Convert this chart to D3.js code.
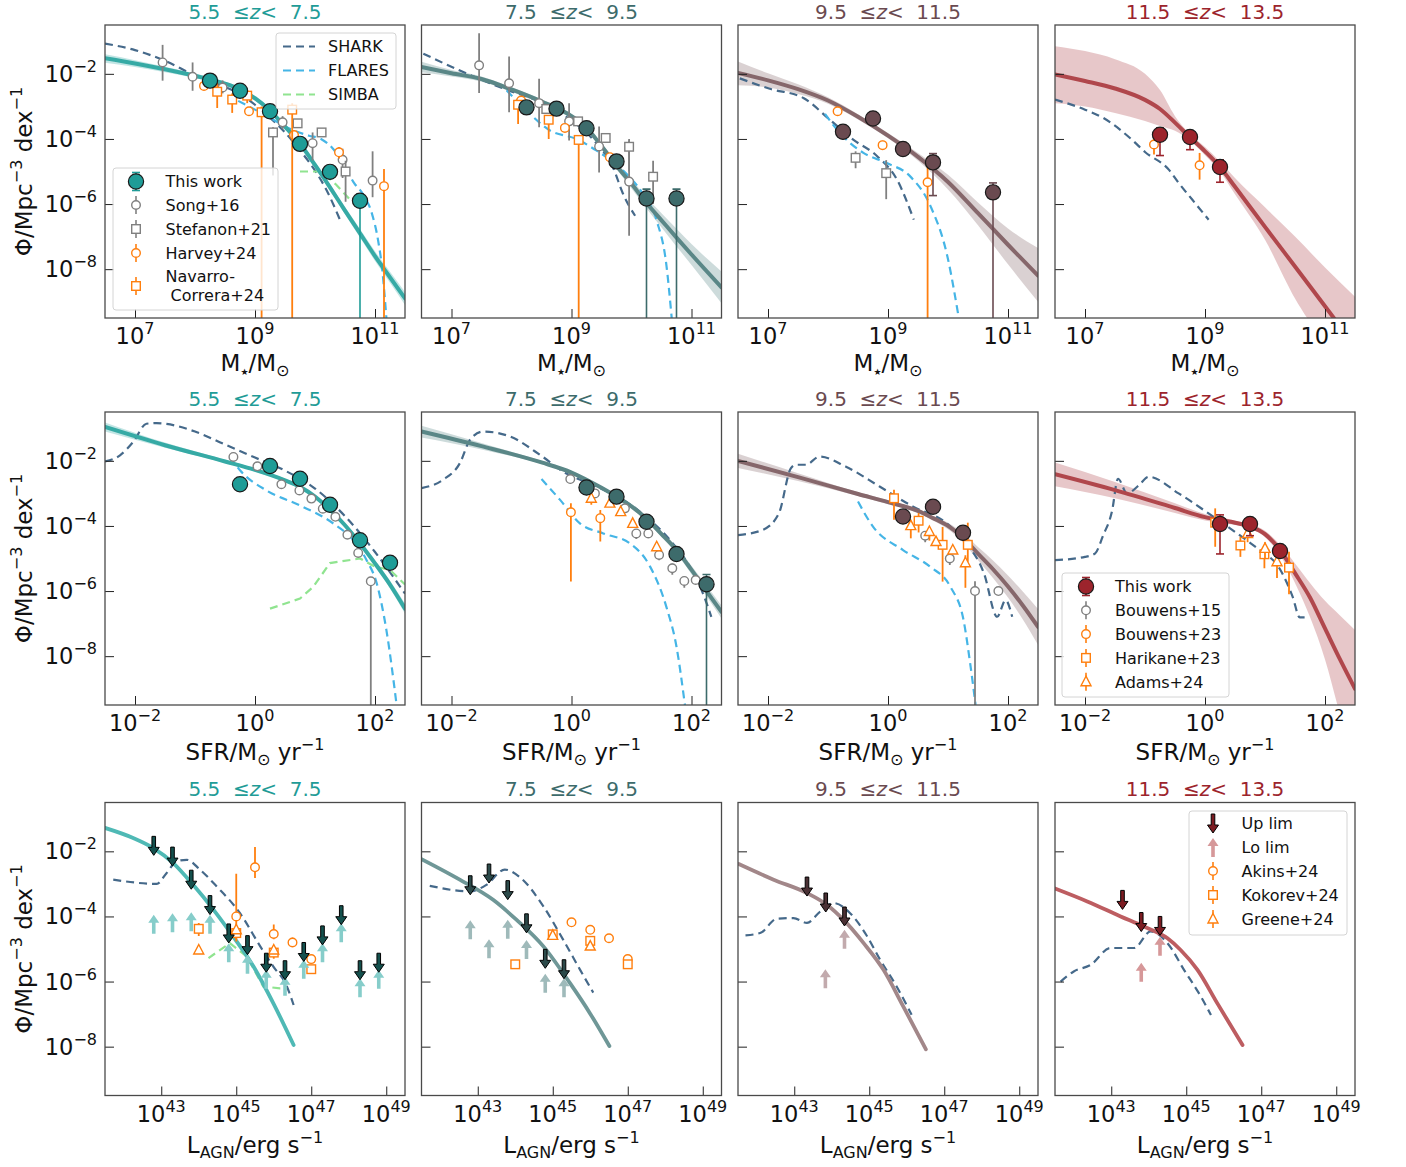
<!DOCTYPE html>
<html>
<head>
<meta charset="utf-8">
<script src="https://cdn.jsdelivr.net/npm/d3@7"></script>
<style>
  body { margin: 0; background: #fff; }
  svg { font-family: "DejaVu Sans", sans-serif; }
</style>
</head>
<body>
<svg id="chart" width="1406" height="1167"></svg>
<script>
// redshift bins
const zLow = ['5.5', '7.5', '9.5', '11.5'];
const zHigh = ['7.5', '9.5', '11.5', '13.5'];

// ---- stellar mass function (log10 M*, log10 Phi) ----
const smfFit = [
  [[6.5,-1.52],[7.0,-1.68],[7.5,-1.86],[8.0,-2.06],[8.5,-2.30],[8.75,-2.48],[9.0,-2.75],[9.25,-3.13],[9.5,-3.62],[9.75,-4.15],[10.0,-4.8],[10.25,-5.49],[10.5,-6.2],[10.75,-6.9],[11.0,-7.6],[11.25,-8.25],[11.5,-8.9]],
  [[6.5,-1.79],[7.0,-1.98],[7.5,-2.16],[8.0,-2.48],[8.5,-2.85],[9.0,-3.3],[9.25,-3.65],[9.5,-4.22],[9.75,-4.82],[10.0,-5.38],[10.25,-5.97],[10.5,-6.5],[10.75,-7.03],[11.0,-7.55],[11.5,-8.56]],
  [[6.5,-1.97],[7.0,-2.2],[7.5,-2.47],[8.0,-2.82],[8.5,-3.32],[9.0,-3.9],[9.5,-4.55],[10.0,-5.32],[10.5,-6.28],[11.0,-7.25],[11.5,-8.2]],
  [[6.5,-2.02],[7.0,-2.22],[7.5,-2.45],[8.0,-2.8],[8.25,-3.08],[8.5,-3.5],[8.75,-3.95],[9.0,-4.38],[9.25,-4.86],[9.5,-5.47],[10.0,-6.7],[10.5,-7.92],[11.0,-9.14],[11.5,-10.36]]
];
const smfBand = [
  [[6.5,-1.66,-1.40],[7.0,-1.79,-1.58],[7.5,-1.95,-1.78],[8.0,-2.13,-1.99],[8.5,-2.36,-2.24],[8.75,-2.54,-2.42],[9.0,-2.81,-2.69],[9.25,-3.19,-3.07],[9.5,-3.69,-3.55],[9.75,-4.23,-4.07],[10.0,-4.89,-4.71],[10.25,-5.59,-5.39],[10.5,-6.31,-6.09],[10.75,-7.03,-6.77],[11.0,-7.75,-7.45],[11.25,-8.42,-8.08],[11.5,-9.1,-8.7]],
  [[6.5,-1.95,-1.63],[7.0,-2.08,-1.88],[7.5,-2.24,-2.08],[8.0,-2.55,-2.41],[8.5,-2.92,-2.78],[9.0,-3.37,-3.23],[9.25,-3.73,-3.57],[9.5,-4.31,-4.13],[9.75,-4.93,-4.71],[10.0,-5.52,-5.24],[10.25,-6.14,-5.8],[10.5,-6.72,-6.28],[10.75,-7.3,-6.76],[11.0,-7.87,-7.23],[11.5,-9.05,-8.07]],
  [[6.5,-2.35,-1.62],[7.0,-2.42,-1.98],[7.5,-2.62,-2.32],[8.0,-2.92,-2.72],[8.5,-3.4,-3.24],[9.0,-3.98,-3.82],[9.5,-4.67,-4.43],[10.0,-5.55,-5.1],[10.5,-6.65,-5.95],[11.0,-7.85,-6.75],[11.5,-9.0,-7.35]],
  [[6.5,-2.9,-1.15],[7.0,-3.0,-1.3],[7.5,-3.2,-1.55],[8.0,-3.45,-2.0],[8.25,-3.6,-2.5],[8.5,-3.75,-3.3],[8.75,-4.05,-3.85],[9.0,-4.5,-4.25],[9.25,-5.0,-4.7],[9.5,-5.7,-5.2],[10.0,-7.1,-6.1],[10.5,-8.9,-7.0],[11.0,-10.3,-7.95],[11.5,-11.6,-8.85]]
];
const smfThisWork = [
  [[8.25,-2.21,-2.3,-2.13],[8.75,-2.52,-2.6,-2.45],[9.25,-3.15,-3.25,-3.07],[9.75,-4.15,-4.3,-4.02],[10.25,-5.01,-5.2,-4.85],[10.75,-5.9,-12,-5.7]],
  [[8.25,-3.03,-3.12,-2.95],[8.75,-3.07,-3.15,-2.99],[9.25,-3.67,-3.78,-3.58],[9.75,-4.69,-4.85,-4.55],[10.25,-5.83,-12,-5.54],[10.75,-5.83,-12,-5.54]],
  [[8.25,-3.78,-3.9,-3.68],[8.75,-3.37,-3.47,-3.28],[9.25,-4.31,-4.45,-4.2],[9.75,-4.72,-5.74,-4.45],[10.75,-5.64,-12,-5.35]],
  [[8.25,-3.87,-4.51,-3.66],[8.75,-3.94,-4.33,-3.77],[9.25,-4.86,-5.33,-4.64]]
];
const smfShark = [
  [[6.5,-1.07],[7.0,-1.27],[7.5,-1.6],[8.0,-2.05],[8.5,-2.4],[8.75,-2.62],[9.0,-2.95],[9.25,-3.35],[9.5,-3.8],[9.75,-4.35],[10.0,-4.97],[10.2,-5.6],[10.42,-6.5]],
  [[6.53,-1.38],[7.14,-1.90],[7.92,-2.49],[8.42,-2.82],[8.92,-3.33],[9.42,-4.15],[9.69,-4.87],[9.86,-5.69],[10.06,-6.36]],
  [[6.53,-2.14],[7.03,-2.46],[7.59,-2.74],[8.03,-3.41],[8.42,-4.02],[8.82,-4.53],[9.15,-5.25],[9.43,-6.48]],
  [[6.5,-2.79],[7.0,-3.1],[7.3,-3.35],[7.78,-4.02],[8.0,-4.4],[8.4,-4.95],[8.56,-5.35],[8.79,-5.87],[9.06,-6.48]]
];
const smfFlares = [
  [[8.72,-2.83],[9.0,-3.1],[9.3,-3.4],[9.6,-3.7],[9.9,-3.9],[10.1,-4.0],[10.3,-4.3],[10.5,-4.85],[10.65,-5.35],[10.8,-5.7],[10.95,-6.3],[11.05,-7.1],[11.12,-8.0],[11.19,-9.5]],
  [[7.92,-2.51],[8.25,-3.13],[8.64,-3.74],[9.08,-4.0],[9.42,-4.36],[9.86,-4.97],[10.19,-5.69],[10.42,-6.51],[10.58,-7.85],[10.67,-9.5]],
  [[7.95,-3.23],[8.2,-3.82],[8.59,-4.43],[8.98,-4.74],[9.37,-5.15],[9.71,-6.07],[9.99,-7.61],[10.18,-9.5]],
  []
];
const smfSimba = [
  [[9.75,-5.0],[10.1,-5.0],[10.35,-5.4],[10.6,-5.9]], [], [], []
];
const smfSong16 = [
  [[7.46,-1.65,-2.21,-1.11],[7.96,-2.09,-2.52,-1.65],[8.46,-2.42,-2.6,-2.2],[9.46,-3.49,-3.7,-3.3],[9.96,-4.13,-4.66,-3.8],[10.46,-4.64,-5.2,-4.3],[10.96,-5.28,-5.79,-4.38]],
  [[7.46,-1.74,-2.59,-0.75],[7.96,-2.29,-3.18,-1.47],[8.46,-2.90,-3.64,-2.15],[8.96,-3.46,-4.05,-2.90],[9.46,-4.23,-5.03,-3.62],[9.96,-5.31,-6.97,-4.05]],
  [], []
];
const smfStefanon21 = [
  [[9.3,-3.80,-5.12,-3.64],[9.71,-3.52,-3.62,-3.42],[10.11,-3.80,-3.9,-3.7],[10.51,-5.0,-5.93,-4.67]],
  [[8.58,-3.08],[9.11,-3.46],[9.57,-3.97],[9.96,-4.24,-5.0,-4.0],[10.36,-5.16,-6.0,-4.67]],
  [[8.46,-4.58,-4.9,-4.38],[8.97,-5.05,-5.85,-4.65]],
  []
];
const smfHarvey24 = [
  [[8.15,-2.37],[8.9,-3.15],[9.65,-3.88],[10.4,-4.41,-4.6,-4.25],[11.15,-5.45,-12,-4.92]],
  [[8.16,-2.82],[8.89,-3.66],[9.64,-4.56]],
  [[8.16,-3.15],[8.91,-4.19,-4.3,-4.05],[9.66,-5.33,-12,-4.55]],
  [[8.15,-4.17,-4.48,-3.97],[8.91,-4.81,-5.25,-4.43]]
];
const smfNavarro24 = [
  [[8.37,-2.55,-3.05,-2.27],[8.62,-2.79,-3.2,-2.6],[8.87,-2.67,-2.9,-2.5],[9.11,-3.18,-12,-3.0],[9.62,-3.10,-12,-2.9]],
  [[8.11,-2.95,-3.54,-2.85],[8.62,-3.41,-4.0,-3.3],[9.12,-4.03,-12,-3.9]],
  [], []
];

// ---- star formation rate function (log10 SFR, log10 Phi) ----
const sfrFit = [
  [[-2.5,-0.96],[-1.5,-1.52],[-0.5,-2.02],[0,-2.28],[0.5,-2.6],[0.75,-2.8],[1.0,-3.1],[1.25,-3.5],[1.5,-3.98],[1.75,-4.54],[2.0,-5.15],[2.25,-5.8],[2.5,-6.54]],
  [[-2.5,-1.10],[-1.5,-1.55],[-0.5,-2.05],[0,-2.36],[0.5,-2.83],[0.75,-3.1],[1.0,-3.4],[1.25,-3.78],[1.5,-4.25],[1.75,-4.74],[2.0,-5.35],[2.25,-6.0],[2.5,-6.64]],
  [[-2.5,-2.0],[-1.5,-2.5],[-0.5,-3.02],[0,-3.27],[0.5,-3.54],[0.75,-3.76],[1.0,-4.0],[1.25,-4.36],[1.5,-4.85],[1.75,-5.33],[2.0,-5.86],[2.25,-6.45],[2.5,-7.1]],
  [[-2.5,-2.41],[-1.5,-2.9],[-0.5,-3.45],[0,-3.73],[0.5,-3.9],[0.75,-4.02],[1.0,-4.25],[1.25,-4.74],[1.5,-5.45],[1.75,-6.2],[2.0,-7.15],[2.25,-8.1],[2.5,-9.0]]
];
const sfrBand = [
  [[-2.5,-1.1,-0.82],[-1.5,-1.6,-1.44],[-0.5,-2.07,-1.97],[0,-2.33,-2.23],[0.5,-2.65,-2.55],[0.75,-2.85,-2.75],[1.0,-3.15,-3.05],[1.25,-3.56,-3.44],[1.5,-4.05,-3.91],[1.75,-4.62,-4.46],[2.0,-5.25,-5.05],[2.25,-5.92,-5.68],[2.5,-6.7,-6.38]],
  [[-2.5,-1.28,-0.92],[-1.5,-1.65,-1.45],[-0.5,-2.1,-2.0],[0,-2.41,-2.31],[0.5,-2.88,-2.78],[0.75,-3.15,-3.05],[1.0,-3.46,-3.34],[1.25,-3.85,-3.71],[1.5,-4.34,-4.16],[1.75,-4.85,-4.63],[2.0,-5.48,-5.22],[2.25,-6.16,-5.84],[2.5,-6.84,-6.44]],
  [[-2.5,-2.22,-1.78],[-1.5,-2.62,-2.38],[-0.5,-3.08,-2.96],[0,-3.33,-3.21],[0.5,-3.6,-3.48],[0.75,-3.83,-3.69],[1.0,-4.1,-3.9],[1.25,-4.5,-4.22],[1.5,-5.05,-4.65],[1.75,-5.6,-5.06],[2.0,-6.2,-5.52],[2.25,-6.88,-6.02],[2.5,-7.65,-6.55]],
  [[-2.5,-2.78,-2.05],[-1.5,-3.15,-2.65],[-0.5,-3.6,-3.3],[0,-3.83,-3.63],[0.5,-3.97,-3.83],[0.75,-4.09,-3.95],[1.0,-4.35,-4.15],[1.25,-4.9,-4.58],[1.5,-5.75,-5.15],[1.75,-6.8,-5.75],[2.0,-8.1,-6.3],[2.25,-9.8,-6.75],[2.5,-11.5,-7.2]]
];
const sfrThisWork = [
  [[-0.25,-2.72],[0.25,-2.16],[0.75,-2.55],[1.25,-3.35],[1.75,-4.44],[2.25,-5.13]],
  [[0.25,-2.82],[0.75,-3.10],[1.25,-3.87],[1.75,-4.86],[2.25,-5.79,-12,-5.49]],
  [[0.25,-3.71],[0.75,-3.41],[1.25,-4.21]],
  [[0.25,-3.94,-4.86,-3.66],[0.75,-3.94,-4.3,-3.8],[1.25,-4.77,-4.9,-4.65]]
];
const sfrShark = [
  [[-2.5,-2.02],[-2.25,-1.83],[-2.03,-1.42],[-1.81,-0.86],[-1.64,-0.84],[-1.5,-0.86],[-1.0,-1.1],[-0.5,-1.5],[0,-1.9],[0.5,-2.3],[1.0,-2.85],[1.5,-3.7],[2.0,-4.8],[2.5,-6.08]],
  [[-2.5,-2.84],[-2.14,-2.58],[-1.86,-2.07],[-1.69,-1.35],[-1.47,-1.10],[-1.03,-1.25],[-0.5,-1.85],[-0.14,-2.33],[0.42,-2.79],[0.86,-3.2],[1.31,-3.82],[1.64,-4.43],[1.97,-5.25],[2.19,-6.07],[2.33,-6.79]],
  [[-2.5,-4.28],[-2.1,-4.13],[-1.82,-3.62],[-1.62,-2.23],[-1.54,-2.12],[-1.37,-2.12],[-1.14,-1.87],[-0.7,-2.18],[-0.14,-2.79],[0.42,-3.41],[0.98,-3.92],[1.26,-4.44],[1.6,-5.46],[1.82,-6.79],[1.96,-6.28],[2.07,-6.79]],
  [[-2.5,-5.05],[-2.0,-4.95],[-1.83,-4.84],[-1.7,-4.3],[-1.55,-3.55],[-1.45,-2.55],[-1.3,-3.0],[-1.1,-2.75],[-0.94,-2.49],[-0.44,-3.0],[0.01,-3.55],[0.4,-4.05],[0.7,-4.45],[0.91,-4.74],[1.24,-5.3],[1.46,-6.17],[1.58,-6.81],[1.66,-6.81]]
];
const sfrFlares = [
  [[-0.42,-1.88],[-0.25,-2.29],[0.19,-2.91],[0.75,-3.37],[1.31,-3.93],[1.64,-4.44],[1.86,-5.05],[2.03,-5.77],[2.19,-7.2],[2.36,-9.5]],
  [[-0.5,-2.56],[-0.19,-3.2],[0.14,-3.92],[0.53,-4.23],[0.97,-4.53],[1.31,-5.25],[1.58,-6.48],[1.75,-7.71],[1.89,-9.5]],
  [[-0.5,-3.25],[-0.25,-4.02],[0.25,-4.74],[0.7,-5.25],[1.04,-5.87],[1.26,-6.9],[1.37,-8.23],[1.46,-9.5]],
  []
];
const sfrSimba = [
  [[0.25,-6.54],[0.75,-6.23],[0.97,-5.87],[1.25,-5.14],[1.75,-5.0],[2.0,-5.25],[2.25,-5.35],[2.5,-5.8]], [], [], []
];
const sfrBouwens15 = [
  [[-0.36,-1.88],[0.04,-2.17],[0.44,-2.72],[0.74,-2.91],[0.94,-3.16],[1.13,-3.47],[1.34,-3.72],[1.54,-4.27],[1.72,-4.83],[1.93,-5.70,-12,-5.7]],
  [[-0.02,-2.56,-2.7,-2.45],[0.39,-3.0],[0.89,-3.46],[1.08,-4.23,-4.4,-4.1],[1.28,-4.23],[1.46,-4.89,-5.05,-4.8],[1.68,-5.3,-5.5,-5.15],[1.88,-5.69,-5.9,-5.55],[2.07,-5.66]],
  [[0.62,-4.3,-4.5,-4.2],[1.03,-5.0,-5.2,-4.9],[1.45,-6.0,-12,-5.7],[1.84,-6.0]],
  []
];
const sfrBouwens23 = [
  [], [[-0.01,-3.58,-5.71,-3.30],[0.48,-3.76,-4.48,-3.51]], [], []
];
const sfrHarikane23 = [
  [], [],
  [[0.1,-3.15,-3.81,-2.89],[0.51,-3.84,-4.2,-3.6],[0.91,-4.58,-5.71,-4.03],[1.33,-4.58,-5.1,-3.9]],
  [[0.17,-3.9,-4.64,-3.46],[0.59,-4.6,-4.95,-4.33],[0.99,-4.87,-5.3,-4.6],[1.4,-5.28,-6.1,-4.79]]
];
const sfrAdams24 = [
  [],
  [[0.33,-3.15,-3.35,-3.0],[0.64,-3.3],[0.82,-3.56],[1.02,-3.92],[1.42,-4.64]],
  [[0.38,-3.99,-4.38,-3.9],[0.69,-4.17,-4.45,-4.05],[0.8,-4.48],[1.08,-4.74],[1.29,-5.13,-5.9,-4.9]],
  [[0.71,-4.23,-4.5,-4.0],[1.0,-4.69,-5.0,-4.5],[1.2,-5.1,-5.6,-4.9]]
];

// ---- AGN luminosity function (log10 L, log10 Phi) ----
const agnFit = [
  [[41.5,-1.28],[42.25,-1.59],[42.79,-1.9],[43.32,-2.36],[43.85,-3.03],[44.39,-3.79],[44.92,-4.62],[45.46,-5.54],[45.99,-6.67],[46.53,-7.95]],
  [[41.5,-2.24],[42.52,-2.87],[43.41,-3.49],[44.03,-4.1],[44.75,-4.92],[45.46,-6.05],[45.99,-6.97],[46.51,-7.98]],
  [[41.52,-2.39],[42.45,-2.87],[43.34,-3.28],[43.87,-3.64],[44.31,-4.1],[44.85,-4.82],[45.38,-5.64],[45.91,-6.77],[46.51,-8.08]],
  [[41.47,-3.13],[42.36,-3.54],[43.25,-4.0],[43.87,-4.31],[44.5,-4.67],[44.85,-5.03],[45.3,-5.64],[45.83,-6.67],[46.5,-7.95]]
];
const agnShark = [
  [[41.72,-2.87],[42.88,-3.0],[43.14,-2.67],[43.41,-2.31],[43.68,-2.26],[44.03,-2.56],[44.48,-3.08],[45.1,-3.9],[45.64,-4.92],[45.99,-5.54],[46.35,-6.15],[46.53,-6.72]],
  [[41.72,-3.06],[42.79,-3.23],[43.23,-3.03],[43.72,-2.56],[44.12,-2.79],[44.75,-3.69],[45.28,-4.72],[45.73,-5.64],[46.08,-6.34]],
  [[41.7,-4.58],[42.09,-4.51],[42.54,-4.07],[42.98,-4.05],[43.34,-4.2],[43.69,-3.85],[44.05,-3.59],[44.49,-3.9],[44.89,-4.51],[45.29,-5.33],[45.73,-6.15],[46.13,-7.02]],
  [[41.65,-6.0],[42.0,-5.69],[42.45,-5.49],[42.98,-4.97],[43.61,-4.97],[44.05,-4.46],[44.5,-4.82],[44.94,-5.64],[45.39,-6.46],[45.66,-7.03]]
];
const agnSimba = [
  [[44.26,-5.28],[44.83,-4.82],[45.28,-5.23],[45.72,-6.15],[46.17,-6.21],[46.35,-6.21]], [], [], []
];
// upper limits: [log L, value at top of the arrow]
const agnUpLim = [
  [[42.8,-1.54],[43.3,-1.87],[43.8,-2.58],[44.3,-3.36],[44.8,-4.23],[45.3,-4.59],[45.8,-5.13],[46.3,-5.36],[46.8,-4.8],[47.3,-4.29],[47.8,-3.67],[48.3,-5.36],[48.8,-5.13]],
  [[42.8,-2.75],[43.3,-2.39],[43.8,-2.90],[44.3,-3.92],[44.8,-5.01],[45.3,-5.33]],
  [[43.34,-2.79],[43.84,-3.28],[44.34,-3.71]],
  [[43.3,-3.2],[43.8,-3.88],[44.3,-4.0]]
];
// lower limits: [log L, value at the arrow head]
const agnLoLim = [
  [[42.8,-3.95],[43.3,-3.90],[43.8,-3.87],[44.3,-3.95],[44.8,-4.82],[45.3,-5.18],[45.8,-5.64],[46.3,-5.85],[46.8,-5.33],[47.3,-4.82],[47.8,-4.21],[48.3,-5.90],[48.8,-5.64]],
  [[42.8,-4.12],[43.3,-4.70],[43.8,-4.10],[44.3,-4.72],[44.8,-5.76],[45.3,-5.9]],
  [[44.34,-4.41],[43.83,-5.62]],
  [[44.3,-4.62],[43.8,-5.42]]
];
const agnAkins24 = [
  [[45.5,-2.49,-2.82,-1.87],[45.0,-4.0,-4.77,-2.69],[46.0,-4.54,-4.7,-4.25],[46.5,-4.8,-4.9,-4.65],[47.0,-5.31,-5.45,-5.2]],
  [[45.5,-4.18],[46.0,-4.41],[46.5,-4.67],[47.0,-5.31]], [], []
];
const agnKokorev24 = [
  [[44.0,-4.38,-4.6,-4.2],[45.0,-4.51,-4.7,-4.3],[46.0,-5.11,-5.3,-4.9],[47.0,-5.62]],
  [[44.0,-5.47],[45.0,-4.55],[46.0,-4.75],[47.0,-5.47]], [], []
];
const agnGreene24 = [
  [[44.0,-5.03],[45.0,-4.41],[46.0,-5.03]],
  [[45.0,-4.58],[46.0,-4.91]], [], []
];

// ---- colours ----
const binColor = ['#1f9c97', '#3d6b6b', '#6a4a50', '#9c242c'];
const fitColor = ['#36aaa5', '#5a8787', '#86676b', '#b0474c'];
const agnLine = ['#4fb9b5', '#6f9797', '#a28789', '#bd5d61'];
const upColor = ['#14504d', '#2c4a4a', '#4a3034', '#7c1c22'];
const loColor = ['#86cdca', '#9fbaba', '#c2aaad', '#d69899'];
const gray = '#808080', orange = '#ff7f0e';
const simStyle = {
  shark: { color: '#45698a', dash: '8,5', curve: d3.curveMonotoneX },
  flares: { color: '#45b5e6', dash: '8,5', curve: d3.curveMonotoneX },
  simba: { color: '#90e490', dash: '8,5', curve: d3.curveLinear }
};

const rows = [
  { fit: smfFit, band: smfBand, main: smfThisWork, xDom: [6.5, 11.5], xTicks: [7, 9, 11],
    sims: [[smfShark, 'shark'], [smfFlares, 'flares'], [smfSimba, 'simba']],
    obs: [[smfSong16, 'o', gray], [smfStefanon21, 's', gray], [smfHarvey24, 'o', orange], [smfNavarro24, 's', orange]] },
  { fit: sfrFit, band: sfrBand, main: sfrThisWork, xDom: [-2.5, 2.5], xTicks: [-2, 0, 2],
    sims: [[sfrShark, 'shark'], [sfrFlares, 'flares'], [sfrSimba, 'simba']],
    obs: [[sfrBouwens15, 'o', gray], [sfrBouwens23, 'o', orange], [sfrHarikane23, 's', orange], [sfrAdams24, '^', orange]] },
  { fit: agnFit, band: null, main: null, xDom: [41.5, 49.5], xTicks: [43, 45, 47, 49],
    sims: [[agnShark, 'shark'], [agnSimba, 'simba']],
    obs: [[agnAkins24, 'o', orange], [agnKokorev24, 's', orange], [agnGreene24, '^', orange]] }
];

const svg = d3.select('#chart');
const W = 300, H = 293;
const colX = [105, 421.5, 738, 1055];
const rowY = [25, 412, 802.5];
const yDom = [-9.5, -0.5];
const yTicks = [-8, -6, -4, -2];
const labelOffset = [53, 55, 57];
const defs = svg.append('defs');

function powLabel(sel, exp) {
  sel.append('tspan').attr('font-size', 22.5).text('10');
  sel.append('tspan').attr('font-size', 16).attr('dy', -10).text(String(exp).replace('-', '\u2212'));
}

function drawMarker(sel, type, cx, cy, color) {
  if (type === 'o') {
    sel.append('circle').attr('cx', cx).attr('cy', cy).attr('r', 4.3)
      .attr('fill', '#fff').attr('stroke', color).attr('stroke-width', 1.4);
  } else if (type === 's') {
    sel.append('rect').attr('x', cx - 4.3).attr('y', cy - 4.3).attr('width', 8.6).attr('height', 8.6)
      .attr('fill', '#fff').attr('stroke', color).attr('stroke-width', 1.4);
  } else {
    sel.append('path').attr('d', `M${cx},${cy - 5.5}L${cx + 5},${cy + 4}L${cx - 5},${cy + 4}Z`)
      .attr('fill', '#fff').attr('stroke', color).attr('stroke-width', 1.4);
  }
}

function downArrow(sel, cx, yTop, fill, edge) {
  const tip = yTop + 19;
  sel.append('path')
    .attr('d', `M${cx - 1.8},${yTop}L${cx + 1.8},${yTop}L${cx + 1.8},${tip - 8}L${cx + 5.5},${tip - 8}L${cx},${tip}L${cx - 5.5},${tip - 8}L${cx - 1.8},${tip - 8}Z`)
    .attr('fill', fill).attr('stroke', edge).attr('stroke-width', 1);
}
function upArrow(sel, cx, yTip, fill) {
  const base = yTip + 19;
  sel.append('path')
    .attr('d', `M${cx - 1.8},${base}L${cx + 1.8},${base}L${cx + 1.8},${yTip + 8}L${cx + 5.5},${yTip + 8}L${cx},${yTip}L${cx - 5.5},${yTip + 8}L${cx - 1.8},${yTip + 8}Z`)
    .attr('fill', fill).attr('stroke', 'none');
}

rows.forEach((R, r) => {
  for (let c = 0; c < 4; c++) {
    const g = svg.append('g').attr('transform', `translate(${colX[c]},${rowY[r]})`);
    const x = d3.scaleLog().domain([10 ** R.xDom[0], 10 ** R.xDom[1]]).range([0, W]);
    const y = d3.scaleLog().domain([10 ** yDom[0], 10 ** yDom[1]]).range([H, 0]);
    const px = v => x(10 ** v), py = v => y(10 ** v);

    const clipId = `clip-${r}-${c}`;
    defs.append('clipPath').attr('id', clipId).append('rect').attr('x', 0).attr('y', 0).attr('width', W).attr('height', H);
    const inner = g.append('g').attr('clip-path', `url(#${clipId})`);

    // uncertainty band of the fit
    if (R.band) {
      inner.append('path').datum(R.band[c])
        .attr('d', d3.area().x(d => px(d[0])).y0(d => py(d[1])).y1(d => py(d[2])).curve(d3.curveMonotoneX))
        .attr('fill', fitColor[c]).attr('opacity', 0.3);
    }

    // simulations
    R.sims.forEach(([data, key]) => {
      if (!data[c].length) return;
      inner.append('path').datum(data[c])
        .attr('d', d3.line().x(d => px(d[0])).y(d => py(d[1])).curve(simStyle[key].curve))
        .attr('fill', 'none').attr('stroke', simStyle[key].color).attr('stroke-width', 2.2)
        .attr('stroke-dasharray', simStyle[key].dash);
    });

    // best fit
    inner.append('path').datum(R.fit[c])
      .attr('d', d3.line().x(d => px(d[0])).y(d => py(d[1])).curve(d3.curveMonotoneX))
      .attr('fill', 'none').attr('stroke', r === 2 ? agnLine[c] : fitColor[c])
      .attr('stroke-width', r === 2 ? 3.8 : 4).attr('stroke-linecap', 'round');

    // literature points
    R.obs.forEach(([data, type, color]) => {
      data[c].forEach(d => {
        if (d.length > 2) {
          inner.append('line').attr('x1', px(d[0])).attr('x2', px(d[0]))
            .attr('y1', py(d[2])).attr('y2', py(d[3]))
            .attr('stroke', color).attr('stroke-width', 1.8);
        }
      });
      data[c].forEach(d => drawMarker(inner, type, px(d[0]), py(d[1]), color));
    });

    // this work
    if (R.main) {
      R.main[c].forEach(d => {
        const lo = d.length > 2 ? d[2] : d[1] - 0.08, hi = d.length > 2 ? d[3] : d[1] + 0.08;
        const cx = px(d[0]);
        inner.append('line').attr('x1', cx).attr('x2', cx).attr('y1', py(lo)).attr('y2', py(hi))
          .attr('stroke', binColor[c]).attr('stroke-width', 1.6);
        [lo, hi].forEach(v => inner.append('line').attr('x1', cx - 4).attr('x2', cx + 4)
          .attr('y1', py(v)).attr('y2', py(v)).attr('stroke', binColor[c]).attr('stroke-width', 1.6));
      });
      R.main[c].forEach(d => {
        inner.append('circle').attr('cx', px(d[0])).attr('cy', py(d[1])).attr('r', 7.6)
          .attr('fill', binColor[c]).attr('stroke', '#1a1a1a').attr('stroke-width', 1.2);
      });
    }

    // AGN limits
    if (r === 2) {
      agnLoLim[c].forEach(d => upArrow(inner, px(d[0]), py(d[1]), loColor[c]));
      agnUpLim[c].forEach(d => downArrow(inner, px(d[0]), py(d[1]), upColor[c], '#000'));
    }

    // ticks (inward)
    g.append('g').attr('transform', `translate(0,${H})`)
      .call(d3.axisBottom(x).tickValues(R.xTicks.map(t => 10 ** t)).tickSize(-9).tickFormat(''))
      .call(a => a.select('.domain').remove())
      .selectAll('line').attr('stroke', '#222');
    g.append('g')
      .call(d3.axisLeft(y).tickValues(yTicks.map(t => 10 ** t)).tickSize(-9).tickFormat(''))
      .call(a => a.select('.domain').remove())
      .selectAll('line').attr('stroke', '#222');

    // tick labels
    R.xTicks.forEach(t => {
      powLabel(g.append('text').attr('x', px(t)).attr('y', H + 26).attr('text-anchor', 'middle').attr('fill', '#111'), t);
    });
    if (c === 0) {
      yTicks.forEach(t => {
        powLabel(g.append('text').attr('x', -8).attr('y', py(t) + 8).attr('text-anchor', 'end').attr('fill', '#111'), t);
      });
    }

    // frame
    g.append('rect').attr('width', W).attr('height', H).attr('fill', 'none')
      .attr('stroke', '#4a4a4a').attr('stroke-width', 1.3);

    // title
    const title = g.append('text').attr('x', W / 2).attr('y', -6.5).attr('text-anchor', 'middle')
      .attr('font-size', 20).attr('fill', binColor[c]).style('white-space', 'pre');
    title.append('tspan').text(`${zLow[c]}  \u2264`);
    title.append('tspan').attr('font-style', 'italic').text('z');
    title.append('tspan').text(`<  ${zHigh[c]}`);

    // x label
    const xl = g.append('text').attr('x', W / 2).attr('y', H + labelOffset[r])
      .attr('text-anchor', 'middle').attr('font-size', 23).attr('fill', '#111').style('white-space', 'pre');
    if (r === 0) {
      xl.append('tspan').text('M');
      xl.append('tspan').attr('font-size', 9).attr('dy', 4).text('\u2605');
      xl.append('tspan').attr('dy', -4).text('/M');
      xl.append('tspan').attr('font-size', 16).attr('dy', 5).text('\u2299');
    } else if (r === 1) {
      xl.append('tspan').text('SFR/M');
      xl.append('tspan').attr('font-size', 16).attr('dy', 5).text('\u2299');
      xl.append('tspan').attr('dy', -5).text(' yr');
      xl.append('tspan').attr('font-size', 16).attr('dy', -10).text('\u22121');
    } else {
      xl.append('tspan').text('L');
      xl.append('tspan').attr('font-size', 16).attr('dy', 5).text('AGN');
      xl.append('tspan').attr('dy', -5).text('/erg s');
      xl.append('tspan').attr('font-size', 16).attr('dy', -10).text('\u22121');
    }

    // y label
    if (c === 0) {
      const yl = g.append('text').attr('transform', `translate(${32 - colX[0]},${H / 2}) rotate(-90)`)
        .attr('text-anchor', 'middle').attr('font-size', 23).attr('fill', '#111').style('white-space', 'pre');
      yl.append('tspan').text('\u03a6/Mpc');
      yl.append('tspan').attr('font-size', 16).attr('dy', -10).text('\u22123');
      yl.append('tspan').attr('dy', 10).text(' dex');
      yl.append('tspan').attr('font-size', 16).attr('dy', -10).text('\u22121');
    }
  }
});

// ---- legends ----
function legendBox(x0, y0, w, h) {
  svg.append('rect').attr('x', x0).attr('y', y0).attr('width', w).attr('height', h).attr('rx', 3)
    .attr('fill', '#fff').attr('fill-opacity', 0.8).attr('stroke', '#d4d4d4').attr('stroke-width', 1);
}
function legendText(x0, yc, txt) {
  svg.append('text').attr('x', x0).attr('y', yc + 5.8).attr('font-size', 16).attr('fill', '#111')
    .style('white-space', 'pre').text(txt);
}
function legendErrMarker(cx, cy, type, color) {
  svg.append('line').attr('x1', cx).attr('x2', cx).attr('y1', cy - 9).attr('y2', cy + 9)
    .attr('stroke', color).attr('stroke-width', 1.6);
  drawMarker(svg, type, cx, cy, color);
}
function legendThisWork(cx, cy, color) {
  svg.append('line').attr('x1', cx).attr('x2', cx).attr('y1', cy - 9).attr('y2', cy + 9)
    .attr('stroke', color).attr('stroke-width', 1.6);
  [cy - 9, cy + 9].forEach(v => svg.append('line').attr('x1', cx - 4).attr('x2', cx + 4).attr('y1', v).attr('y2', v)
    .attr('stroke', color).attr('stroke-width', 1.6));
  svg.append('circle').attr('cx', cx).attr('cy', cy).attr('r', 7.6).attr('fill', color)
    .attr('stroke', '#1a1a1a').attr('stroke-width', 1.2);
}

// simulations legend (top-left panel)
const simNames = ['SHARK', 'FLARES', 'SIMBA'];
const simKeys = ['shark', 'flares', 'simba'];
legendBox(276, 33, 120, 76);
simNames.forEach((n, i) => {
  const yc = 46.5 + i * 24;
  svg.append('line').attr('x1', 283).attr('x2', 315).attr('y1', yc).attr('y2', yc)
    .attr('stroke', simStyle[simKeys[i]].color).attr('stroke-width', 2.2).attr('stroke-dasharray', '8,5');
  legendText(328, yc, n);
});

// stellar mass legend
const smfNames = ['This work', 'Song+16', 'Stefanon+21', 'Harvey+24'];
legendBox(113, 168, 165, 142);
legendThisWork(136, 181.5, binColor[0]);
legendText(165.5, 181.5, smfNames[0]);
legendErrMarker(136, 205, 'o', gray); legendText(165.5, 205, smfNames[1]);
legendErrMarker(136, 229, 's', gray); legendText(165.5, 229, smfNames[2]);
legendErrMarker(136, 253, 'o', orange); legendText(165.5, 253, smfNames[3]);
legendErrMarker(136, 286, 's', orange); legendText(165.5, 276.5, 'Navarro-'); legendText(165.5, 295, ' Correra+24');

// SFR legend
const sfrNames = ['This work', 'Bouwens+15', 'Bouwens+23', 'Harikane+23', 'Adams+24'];
legendBox(1062, 573, 167, 124);
legendThisWork(1086, 586.5, binColor[3]);
legendErrMarker(1086, 610.3, 'o', gray);
legendErrMarker(1086, 634.1, 'o', orange);
legendErrMarker(1086, 657.9, 's', orange);
legendErrMarker(1086, 681.7, '^', orange);
sfrNames.forEach((n, i) => legendText(1115, 586.5 + i * 23.8, n));

// AGN legend
const agnNames = ['Up lim', 'Lo lim', 'Akins+24', 'Kokorev+24', 'Greene+24'];
legendBox(1189, 811, 158, 124);
downArrow(svg, 1213, 814, upColor[3], '#000');
upArrow(svg, 1213, 838, loColor[3]);
legendErrMarker(1213, 871, 'o', orange);
legendErrMarker(1213, 895, 's', orange);
legendErrMarker(1213, 919, '^', orange);
agnNames.forEach((n, i) => legendText(1241.5, 823.5 + i * 23.9, n));
</script>
</body>
</html>
